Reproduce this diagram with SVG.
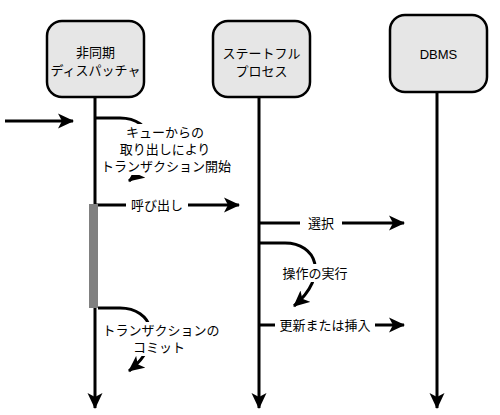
<svg xmlns="http://www.w3.org/2000/svg" width="500" height="415" viewBox="0 0 500 415">
<style>
.node rect{fill:#e6e6e6;stroke:#000;stroke-width:2.5}
.t{font-family:"Liberation Sans","Noto Sans CJK JP",sans-serif;font-size:13px;fill:#000;text-anchor:middle;dominant-baseline:central}
.ln{fill:none;stroke:#000;stroke-width:3}
.bg{fill:#fff}
</style>
<defs>
<marker id="ah" viewBox="0 0 16 16" markerWidth="16" markerHeight="16" refX="15" refY="8" orient="auto" markerUnits="userSpaceOnUse">
<path d="M0,0.5 L16,8 L0,15.5 L4,8 z" fill="#000"/>
</marker>
</defs>
<rect width="500" height="415" fill="#fff"/>
<g id="connectors">
<path class="ln" d="M95,97 V408" marker-end="url(#ah)"/>
<path class="ln" d="M259,97 V408" marker-end="url(#ah)"/>
<path class="ln" d="M437,92 V408" marker-end="url(#ah)"/>
<path class="ln" d="M5,121 H73" marker-end="url(#ah)"/>
<path class="ln" d="M95,118 H120 C152,118 166,152 129,181" marker-end="url(#ah)"/>
<path class="ln" d="M95,205 H239" marker-end="url(#ah)"/>
<rect x="89" y="204" width="9" height="104" fill="#808080"/>
<path class="ln" d="M98,308 H120 C152,308 166,342 129,371" marker-end="url(#ah)"/>
<path class="ln" d="M259,223 H404" marker-end="url(#ah)"/>
<path class="ln" d="M259,243 H285 C316,243 330,275 294,306" marker-end="url(#ah)"/>
<path class="ln" d="M259,325 H404" marker-end="url(#ah)"/>
</g>
<g id="labels">
<rect class="bg" x="124" y="124" width="82" height="18"/>
<rect class="bg" x="116" y="141" width="96" height="18"/>
<rect class="bg" x="101" y="158" width="131" height="17"/>
<text class="t" x="165" y="132">キューからの</text>
<text class="t" x="165" y="149">取り出しにより</text>
<text class="t" x="166" y="166">トランザクション開始</text>
<rect class="bg" x="126" y="197" width="62" height="17"/>
<text class="t" x="157" y="205">呼び出し</text>
<rect class="bg" x="100" y="322" width="122" height="17"/>
<rect class="bg" x="131" y="339" width="57" height="17"/>
<text class="t" x="161" y="330">トランザクションの</text>
<text class="t" x="159" y="347">コミット</text>
<rect class="bg" x="300" y="215" width="42" height="17"/>
<text class="t" x="321" y="223">選択</text>
<rect class="bg" x="281" y="264" width="68" height="18"/>
<text class="t" x="315" y="273">操作の実行</text>
<rect class="bg" x="275" y="317" width="100" height="17"/>
<text class="t" x="325" y="325">更新または挿入</text>
</g>
<g id="node-dispatcher" class="node">
<rect x="47" y="21" width="97" height="76" rx="15"/>
<text class="t" x="95.5" y="52">非同期</text>
<text class="t" x="95.5" y="70">ディスパッチャ</text>
</g>
<g id="node-stateful" class="node">
<rect x="213" y="21" width="97" height="76" rx="15"/>
<text class="t" x="261.5" y="53">ステートフル</text>
<text class="t" x="261.5" y="71">プロセス</text>
</g>
<g id="node-dbms" class="node">
<rect x="390" y="15" width="97" height="77" rx="15"/>
<text class="t" x="438.5" y="54">DBMS</text>
</g>
</svg>
